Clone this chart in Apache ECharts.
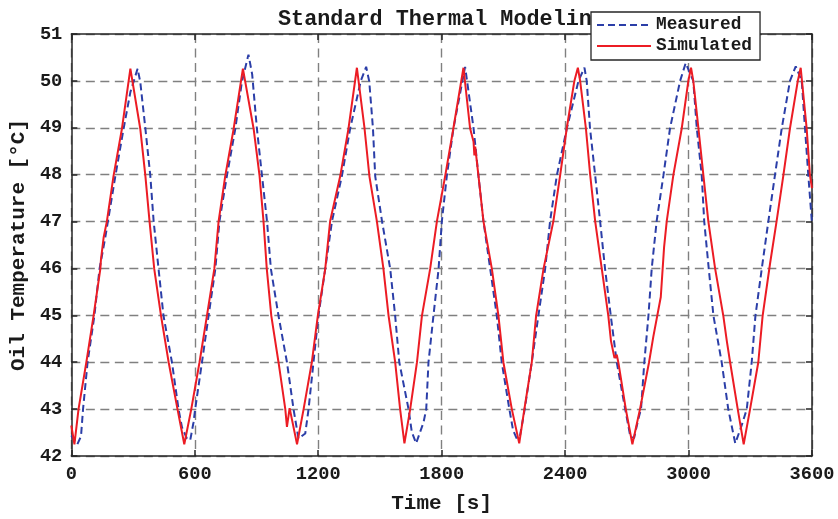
<!DOCTYPE html>
<html>
<head>
<meta charset="utf-8">
<script src="https://cdn.jsdelivr.net/npm/echarts@6/dist/echarts.min.js"></script>
<style>
html,body{margin:0;padding:0;background:#fff;overflow:hidden;}
#chart{width:838px;height:519px;}
</style>
</head>
<body>
<div id="chart"></div>
<script>
// ---- Data ----
var chartTitle = 'Standard Thermal Modeling';
var seriesNames = ['Measured', 'Simulated'];
var xTicks = [0, 600, 1200, 1800, 2400, 3000, 3600];
var yTicks = [42, 43, 44, 45, 46, 47, 48, 49, 50, 51];

var timeMeasured = [0, 19, 29, 47, 57, 79, 112, 137, 165, 178, 214, 254, 287, 322, 335, 360, 384, 400, 424, 448, 489, 521, 538, 562, 578, 594, 602, 635, 667, 700, 720, 756, 797, 829, 861, 879, 902, 927, 951, 970, 1007, 1048, 1080, 1104, 1137, 1153, 1177, 1201, 1234, 1267, 1315, 1355, 1407, 1433, 1448, 1466, 1477, 1510, 1550, 1574, 1594, 1639, 1655, 1676, 1712, 1725, 1736, 1760, 1785, 1801, 1825, 1857, 1914, 1955, 1979, 2003, 2036, 2068, 2092, 2129, 2147, 2165, 2181, 2201, 2238, 2270, 2303, 2327, 2360, 2408, 2465, 2494, 2505, 2521, 2546, 2570, 2594, 2622, 2651, 2692, 2716, 2735, 2756, 2769, 2785, 2805, 2821, 2845, 2878, 2910, 2959, 2986, 3023, 3040, 3064, 3076, 3098, 3121, 3161, 3193, 3227, 3258, 3283, 3307, 3325, 3356, 3388, 3420, 3453, 3493, 3521, 3550, 3566, 3582, 3599, 3600];
var tempMeasured = [42.44, 42.30, 42.25, 42.42, 43.00, 44.00, 44.99, 45.99, 46.66, 47.01, 47.97, 48.98, 49.76, 50.26, 49.98, 48.98, 47.97, 47.01, 45.99, 44.99, 44.00, 43.00, 42.61, 42.37, 42.34, 42.72, 43.00, 44.00, 44.99, 45.99, 47.01, 47.97, 48.98, 49.98, 50.56, 50.14, 48.98, 47.97, 47.01, 45.99, 44.99, 44.00, 43.00, 42.37, 42.48, 43.00, 44.00, 44.99, 45.99, 47.01, 47.97, 48.98, 50.00, 50.30, 49.99, 48.99, 47.97, 47.01, 45.99, 44.99, 44.00, 43.00, 42.51, 42.27, 42.72, 43.00, 44.00, 44.99, 45.99, 47.01, 47.97, 48.98, 50.30, 48.99, 47.97, 47.01, 45.99, 44.99, 44.00, 43.00, 42.55, 42.37, 42.44, 42.93, 44.00, 44.99, 45.99, 47.01, 47.99, 48.98, 50.00, 50.28, 50.00, 48.99, 47.99, 47.01, 46.00, 44.99, 44.00, 43.00, 42.44, 42.38, 42.79, 43.00, 44.00, 44.99, 46.00, 47.01, 47.99, 48.99, 50.00, 50.38, 50.00, 48.99, 47.99, 47.01, 46.00, 44.99, 44.00, 43.00, 42.27, 42.65, 43.00, 44.00, 44.99, 46.00, 47.01, 47.99, 48.99, 50.00, 50.31, 50.00, 48.99, 47.99, 47.01, 47.04];

var timeSimulated = [0, 15, 35, 73, 108, 141, 144, 157, 173, 205, 246, 287, 335, 360, 380, 403, 436, 473, 516, 549, 583, 623, 659, 695, 716, 748, 789, 834, 886, 915, 934, 950, 972, 1007, 1040, 1048, 1061, 1097, 1129, 1169, 1198, 1234, 1258, 1307, 1347, 1388, 1425, 1449, 1485, 1517, 1542, 1574, 1598, 1619, 1647, 1680, 1704, 1744, 1777, 1817, 1857, 1906, 1938, 1955, 1959, 1963, 1979, 2003, 2044, 2076, 2100, 2141, 2177, 2202, 2238, 2259, 2295, 2343, 2376, 2408, 2445, 2462, 2473, 2501, 2522, 2546, 2578, 2610, 2623, 2640, 2651, 2659, 2695, 2727, 2764, 2808, 2829, 2865, 2881, 2894, 2926, 2967, 2999, 3012, 3023, 3048, 3072, 3096, 3129, 3169, 3186, 3202, 3239, 3268, 3299, 3339, 3360, 3396, 3428, 3461, 3493, 3531, 3545, 3574, 3590, 3600];
var tempSimulated = [42.65, 42.25, 43.00, 44.00, 44.99, 45.99, 46.19, 46.66, 47.01, 47.97, 48.98, 50.26, 48.98, 47.97, 47.01, 45.99, 44.99, 44.00, 43.00, 42.25, 43.00, 44.00, 44.99, 45.99, 47.01, 47.97, 48.98, 50.26, 48.98, 47.97, 47.01, 45.99, 44.99, 44.00, 43.00, 42.62, 43.02, 42.25, 43.00, 44.00, 44.99, 45.99, 47.01, 47.97, 48.98, 50.28, 48.99, 47.96, 47.01, 45.99, 44.99, 44.00, 43.00, 42.27, 43.00, 44.00, 44.99, 45.99, 47.01, 47.97, 48.99, 50.28, 48.99, 48.70, 48.41, 48.60, 47.97, 47.01, 45.99, 44.99, 44.00, 43.00, 42.27, 43.00, 44.00, 44.99, 45.99, 47.01, 47.99, 48.99, 50.00, 50.28, 50.00, 48.99, 47.99, 47.01, 46.00, 44.99, 44.45, 44.09, 44.16, 43.99, 43.00, 42.25, 43.00, 44.00, 44.55, 45.39, 46.45, 47.01, 47.99, 48.99, 50.00, 50.28, 50.00, 48.99, 47.99, 47.01, 46.00, 44.99, 44.45, 44.00, 43.00, 42.25, 43.00, 44.00, 44.99, 46.10, 47.01, 47.99, 48.99, 50.00, 50.28, 48.99, 47.99, 47.71];

function pairs(xs, ys) { return xs.map(function (x, i) { return [x, ys[i]]; }); }

var FONT = "'Liberation Mono', 'Courier New', monospace";
var gridColor = '#808080';
var axisColor = '#262626';
var plainNumber = function (v) { return String(v); };

var chart = echarts.init(document.getElementById('chart'), null, { renderer: 'canvas', width: 838, height: 519 });

var baseX = {
  type: 'value', min: xTicks[0], max: xTicks[xTicks.length - 1], interval: 600
};
var baseY = {
  type: 'value', min: yTicks[0], max: yTicks[yTicks.length - 1], interval: 1
};

var option = {
  backgroundColor: '#ffffff',
  animation: false,
  title: {
    text: chartTitle,
    left: 278, top: 9, padding: 0, z: 1,
    textStyle: { fontFamily: FONT, fontWeight: 'bold', fontSize: 21.8, color: '#1a1a1a' }
  },
  legend: {
    data: seriesNames,
    orient: 'vertical',
    left: 591, top: 12,
    padding: [4, 8, 5, 5],
    itemWidth: 54, itemHeight: 14, itemGap: 3,
    backgroundColor: '#ffffff',
    borderColor: '#262626', borderWidth: 1.3,
    itemStyle: { opacity: 0 },
    z: 20,
    textStyle: { fontFamily: FONT, fontWeight: 'bold', fontSize: 17.8, color: '#1a1a1a' }
  },
  grid: { left: 71, top: 34, right: 26, bottom: 58, containLabel: false },
  xAxis: [
    Object.assign({}, baseX, {
      position: 'bottom',
      name: 'Time [s]', nameLocation: 'middle', nameGap: 37,
      nameTextStyle: { fontFamily: FONT, fontWeight: 'bold', fontSize: 21, color: '#1a1a1a' },
      axisLine: { show: true, onZero: false, lineStyle: { color: axisColor, width: 1.5 } },
      axisTick: { show: true, inside: true, length: 6, lineStyle: { color: axisColor, width: 1.5 } },
      axisLabel: { margin: 9, formatter: plainNumber, fontFamily: FONT, fontWeight: 'bold', fontSize: 18.7, color: '#1a1a1a' },
      splitLine: { show: true, lineStyle: { color: gridColor, width: 1.4, type: [9, 5.5] } }
    }),
    Object.assign({}, baseX, {
      position: 'top',
      axisLine: { show: true, onZero: false, lineStyle: { color: axisColor, width: 1.5 } },
      axisTick: { show: true, inside: true, length: 6, lineStyle: { color: axisColor, width: 1.5 } },
      axisLabel: { show: false },
      splitLine: { show: false }
    })
  ],
  yAxis: [
    Object.assign({}, baseY, {
      position: 'left',
      name: 'Oil Temperature [°C]', nameLocation: 'middle', nameGap: 38, nameRotate: 90,
      nameTextStyle: { fontFamily: FONT, fontWeight: 'bold', fontSize: 21, color: '#1a1a1a' },
      axisLine: { show: true, onZero: false, lineStyle: { color: axisColor, width: 1.5 } },
      axisTick: { show: true, inside: true, length: 6, lineStyle: { color: axisColor, width: 1.5 } },
      axisLabel: { margin: 9, formatter: plainNumber, fontFamily: FONT, fontWeight: 'bold', fontSize: 18.7, color: '#1a1a1a' },
      splitLine: { show: true, lineStyle: { color: gridColor, width: 1.4, type: [9, 5.5] } }
    }),
    Object.assign({}, baseY, {
      position: 'right',
      axisLine: { show: true, onZero: false, lineStyle: { color: axisColor, width: 1.5 } },
      axisTick: { show: true, inside: true, length: 6, lineStyle: { color: axisColor, width: 1.5 } },
      axisLabel: { show: false },
      splitLine: { show: false }
    })
  ],
  series: [
    {
      name: seriesNames[0], type: 'line', xAxisIndex: 0, yAxisIndex: 0,
      data: pairs(timeMeasured, tempMeasured),
      showSymbol: false, symbol: 'none', clip: true, z: 3,
      itemStyle: { color: '#2b3ea8' },
      lineStyle: { color: '#2b3ea8', width: 2, type: [7, 4] }
    },
    {
      name: seriesNames[1], type: 'line', xAxisIndex: 0, yAxisIndex: 0,
      data: pairs(timeSimulated, tempSimulated),
      showSymbol: false, symbol: 'none', clip: true, z: 4,
      itemStyle: { color: '#ec1c24' },
      lineStyle: { color: '#ec1c24', width: 2 }
    }
  ]
};
chart.setOption(option);
</script>
</body>
</html>
